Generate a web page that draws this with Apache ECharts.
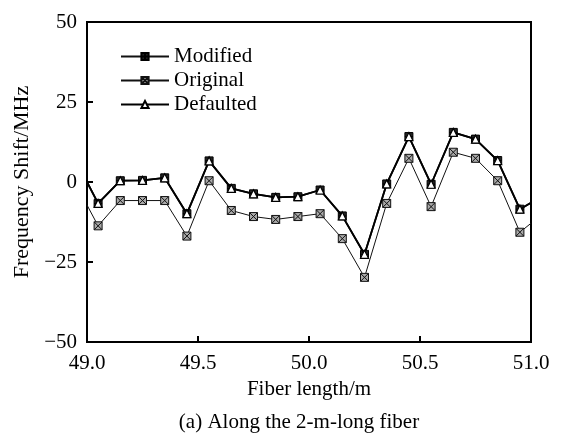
<!DOCTYPE html>
<html>
<head>
<meta charset="utf-8">
<script src="https://cdn.jsdelivr.net/npm/echarts@6/dist/echarts.min.js"></script>
<style>
  html, body { margin: 0; padding: 0; background: #fff; }
  #chart { width: 563px; height: 435px; }
</style>
</head>
<body>
<div id="chart"></div>
<script>
// fiber position (m); first and last are edge values where the lines leave the frame
const positions = [49.0, 49.05, 49.15, 49.25, 49.35, 49.45, 49.55, 49.65, 49.75, 49.85, 49.95,
  50.05, 50.15, 50.25, 50.35, 50.45, 50.55, 50.65, 50.75, 50.85, 50.95, 51.0]
const modified = [0, -6.7, 0.4, 0.5, 1.3, -9.9, 6.6, -2, -3.7, -4.8, -4.6,
  -2.5, -10.6, -22.6, -0.6, 14.2, -0.7, 15.5, 13.4, 6.7, -8.5, -6.5]
const original = [-7.2, -13.7, -5.8, -5.8, -5.8, -16.9, 0.4, -8.9, -10.8, -11.7, -10.8,
  -9.9, -17.7, -29.8, -6.7, 7.4, -7.7, 9.3, 7.4, 0.4, -15.7, -12.9]
const defaulted = [0, -6.7, 0.4, 0.5, 1.3, -9.9, 6.6, -2, -3.7, -4.8, -4.6,
  -2.5, -10.6, -22.6, -0.6, 14.2, -0.7, 15.5, 13.4, 6.7, -8.5, -6.5]
const seriesNames = ['Modified', 'Original', 'Defaulted']

const font = 'Liberation Serif, Times New Roman, serif'
const chart = echarts.init(document.getElementById('chart'))

function toData(values) {
  const last = values.length - 1
  return values.map((v, i) => {
    const item = { value: [positions[i], v] }
    if (i === 0 || i === last) item.symbol = 'none'
    return item
  })
}

const minus = (v) => (v < 0 ? '\u2212' + Math.abs(v) : String(v))

chart.setOption({
  animation: false,
  grid: { left: 87, right: 32, top: 22, bottom: 93 },
  legend: {
    orient: 'vertical',
    left: 115,
    top: 41,
    itemWidth: 48,
    itemHeight: 9,
    itemGap: 3,
    data: seriesNames,
    textStyle: { fontFamily: font, fontSize: 21, color: '#000' }
  },
  xAxis: {
    type: 'value',
    min: 49,
    max: 51,
    interval: 0.5,
    name: 'Fiber length/m',
    nameLocation: 'middle',
    nameGap: 37,
    nameTextStyle: { fontFamily: font, fontSize: 21, color: '#000' },
    axisLine: { onZero: false, lineStyle: { color: '#000', width: 2 } },
    axisTick: { inside: true, length: 6, lineStyle: { color: '#000', width: 2 } },
    axisLabel: { fontFamily: font, fontSize: 21, color: '#000', margin: 11, formatter: (v) => v.toFixed(1) },
    splitLine: { show: false }
  },
  yAxis: {
    type: 'value',
    min: -50,
    max: 50,
    interval: 25,
    name: 'Frequency Shift/MHz',
    nameLocation: 'middle',
    nameGap: 52,
    nameRotate: 90,
    nameTextStyle: { fontFamily: font, fontSize: 22, color: '#000' },
    axisLine: { onZero: false, lineStyle: { color: '#000', width: 2 } },
    axisTick: { inside: true, length: 6, lineStyle: { color: '#000', width: 2 } },
    axisLabel: { fontFamily: font, fontSize: 21, color: '#000', margin: 10, formatter: minus },
    splitLine: { show: false }
  },
  graphic: [
    {
      type: 'rect',
      shape: { x: 87, y: 22, width: 444, height: 320 },
      style: { fill: 'none', stroke: '#000', lineWidth: 2 },
      silent: true
    },
    {
      type: 'text',
      x: 299,
      y: 412,
      style: {
        text: '(a) Along the 2-m-long fiber',
        font: '21px ' + font,
        fill: '#000',
        align: 'center',
        verticalAlign: 'top'
      }
    }
  ],
  series: [
    {
      name: 'Modified',
      type: 'line',
      z: 3,
      symbol: 'path://M0,0H10V10H0Z M5,0V10 M0,5H10',
      symbolSize: 8,
      lineStyle: { color: '#111', width: 1.8 },
      itemStyle: { color: '#222', borderColor: '#000', borderWidth: 1 },
      data: toData(modified)
    },
    {
      name: 'Original',
      type: 'line',
      z: 2,
      symbol: 'path://M0,0H10V10H0Z M0,0L10,10 M10,0L0,10',
      symbolSize: 8,
      lineStyle: { color: '#111', width: 1 },
      itemStyle: { color: '#aaa', borderColor: '#111', borderWidth: 1 },
      data: toData(original)
    },
    {
      name: 'Defaulted',
      type: 'line',
      z: 4,
      symbol: 'triangle',
      symbolSize: 8,
      lineStyle: { color: '#000', width: 1.8 },
      itemStyle: { color: '#fff', borderColor: '#000', borderWidth: 1.2 },
      data: toData(defaulted)
    }
  ]
})
</script>
</body>
</html>
